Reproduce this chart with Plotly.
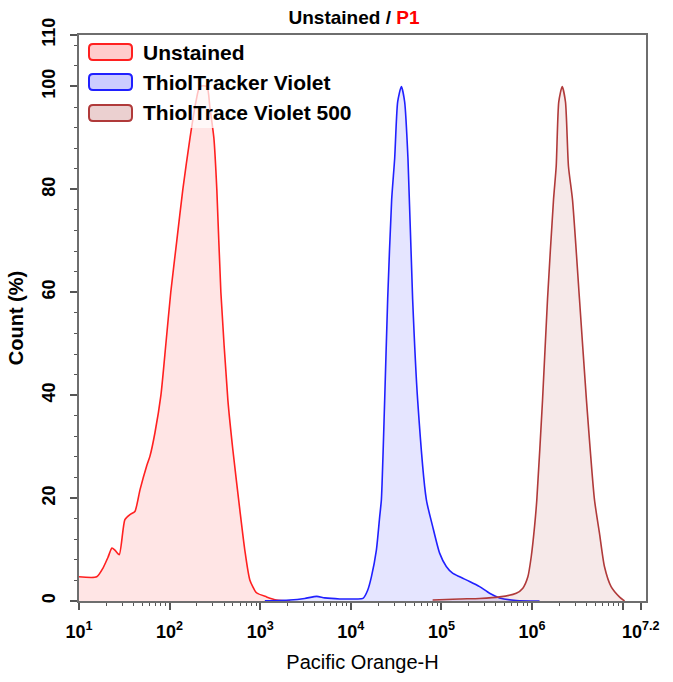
import plotly.graph_objects as go

# ---------------- data ----------------
unstained_x = [10, 15.7, 18.4, 20.9, 23.1, 24.9, 27.8, 32.1, 36.5, 41.4, 47.1, 55.7, 60.6, 68.9,
               80.2, 91, 103, 120, 140, 168, 195, 216, 258, 278, 308, 332, 368, 440, 499, 596,
               676, 768, 910, 1175, 1515, 2140]
unstained_y = [4.7, 4.7, 6.4, 8.5, 10.3, 9.9, 9.0, 15.8, 16.8, 17.4, 21.6, 26.2, 28.1, 32.7,
               40, 50, 60, 70, 80, 90, 97, 100, 100, 96, 90, 80, 60, 39, 29.4, 17.7,
               9.9, 4.1, 1.6, 0.8, 0.2, 0]

tracker_x = [1125, 2120, 3100, 4210, 5150, 7550, 11040, 13620, 15350, 16870, 19150, 20830, 21750,
             23640, 25520, 28240, 30480, 32890, 36140, 39280, 42740, 48110, 54690, 68190, 80000,
             95550, 113200, 132800, 158800, 204700, 263900, 340000, 438000, 670000, 1210000]
tracker_y = [0.05, 0.2, 0.5, 0.9, 0.6, 0.4, 0.4, 0.5, 2.1, 4.7, 9.9, 16.4, 19.7,
             39, 58.7, 78, 86, 97, 100, 97, 86, 58.7, 39, 19.7, 14.5,
             9.3, 6.7, 5.4, 4.7, 3.8, 2.8, 1.5, 0.6, 0.1, 0]

trace500_x = [80000, 158800, 263900, 438000, 670000, 792000, 900000, 980000, 1067000, 1130000,
              1306000, 1483000, 1727000, 1849000, 1973000, 2152000, 2340000, 2524000, 2797000,
              3340000, 3990000, 4890000, 5550000, 6300000, 7460000, 9220000, 10500000]
trace500_y = [0.2, 0.4, 0.5, 0.8, 1.5, 2.5, 4.7, 8.6, 14.5, 19.7,
              39, 58.7, 78, 84.5, 97, 100, 97, 84.5, 78,
              58.7, 39, 19.7, 13.2, 6.7, 2.8, 0.8, 0]

series_names = ["Unstained", "ThiolTracker Violet", "ThiolTrace Violet 500"]
line_colors = ["#ff2020", "#2020ff", "#b03a3a"]
fill_colors = ["rgba(255,0,0,0.10)", "rgba(0,0,255,0.10)", "rgba(165,42,42,0.10)"]
swatch_fills = ["rgba(255,0,0,0.20)", "rgba(0,0,255,0.20)", "rgba(165,42,42,0.22)"]

x_tick_vals = [10, 100, 1000, 1e4, 1e5, 1e6, 1e7, 10 ** 7.2]
x_tick_text = ["10<sup>1</sup>", "10<sup>2</sup>", "10<sup>3</sup>", "10<sup>4</sup>",
               "10<sup>5</sup>", "10<sup>6</sup>", "", "10<sup>7.2</sup>"]
x_minor_vals = [m * 10 ** d for d in range(1, 7) for m in range(2, 10)]
y_tick_vals = [0, 20, 40, 60, 80, 100, 110]
y_tick_text = ["0", "20", "40", "60", "80", "100", "110"]

# ---------------- layout geometry (pixels) ----------------
W, H = 673, 682
L, R, T, B = 79, 27, 35, 81
PW, PH = W - L - R, H - T - B


def px_x(px):
    return (px - L) / PW


def px_y(py):
    return (H - B - py) / PH


def rounded_rect(x0, y0, x1, y1, r=3):
    # pixel coords (y down) -> paper path with rounded corners
    rx, ry = r / PW, r / PH
    X0, X1 = px_x(x0), px_x(x1)
    Yt, Yb = px_y(y0), px_y(y1)
    return (f"M{X0 + rx},{Yt} L{X1 - rx},{Yt} Q{X1},{Yt} {X1},{Yt - ry} "
            f"L{X1},{Yb + ry} Q{X1},{Yb} {X1 - rx},{Yb} L{X0 + rx},{Yb} "
            f"Q{X0},{Yb} {X0},{Yb + ry} L{X0},{Yt - ry} Q{X0},{Yt} {X0 + rx},{Yt} Z")


FONT = "Liberation Sans, Arial, sans-serif"
fig = go.Figure()
for xs, ys, name, lc, fc in zip([unstained_x, tracker_x, trace500_x],
                                [unstained_y, tracker_y, trace500_y],
                                series_names, line_colors, fill_colors):
    fig.add_trace(go.Scatter(x=xs, y=ys, name=name, mode="lines",
                             line=dict(color=lc, width=1.6, shape="spline", smoothing=0.6),
                             fill="tozeroy", fillcolor=fc, showlegend=False))

# custom legend (box, swatches, labels)
shapes = [dict(type="rect", xref="paper", yref="paper", layer="above",
               x0=px_x(81), x1=px_x(362), y0=px_y(37), y1=px_y(128),
               fillcolor="rgba(255,255,255,0.72)", line=dict(width=0))]
annotations = []
row_y = [52, 82, 113]
for name, lc, sf, cy in zip(series_names, line_colors, swatch_fills, row_y):
    shapes.append(dict(type="path", xref="paper", yref="paper", layer="above",
                       path=rounded_rect(89, cy - 8, 132, cy + 8, r=4),
                       fillcolor=sf, line=dict(color=lc, width=2)))
    annotations.append(dict(text=f"<b>{name}</b>", xref="paper", yref="paper",
                            x=px_x(141), y=px_y(cy), xanchor="left", yanchor="middle",
                            showarrow=False,
                            font=dict(family=FONT, size=21, color="black")))

fig.update_layout(
    width=W, height=H,
    margin=dict(l=L, r=R, t=T, b=B, autoexpand=False),
    paper_bgcolor="white", plot_bgcolor="white",
    font=dict(family=FONT, color="black", size=15),
    title=dict(text="<b>Unstained / <span style='color:#ff0000'>P1</span></b>",
               x=354 / W, xref="container", xanchor="center",
               y=1 - 17 / H, yref="container", yanchor="middle",
               font=dict(family=FONT, size=19, color="black")),
    showlegend=False,
    shapes=shapes,
    annotations=annotations,
)
fig.update_xaxes(
    type="log", range=[1, 7.258], automargin=False,
    tickmode="array", tickvals=x_tick_vals, ticktext=x_tick_text,
    ticks="outside", ticklen=7, tickwidth=1.5, tickcolor="#555555",
    ticklabelstandoff=6,
    minor=dict(tickmode="array", tickvals=x_minor_vals, ticks="outside", ticklen=3,
               tickwidth=1, tickcolor="#555555"),
    tickfont=dict(family=FONT, size=18, color="black", weight="bold"),
    showline=True, linecolor="#6e6e6e", linewidth=2, mirror=True,
    showgrid=False, zeroline=False,
    title=dict(text="Pacific Orange-H", font=dict(family=FONT, size=20, color="black"),
               standoff=14),
)
fig.update_yaxes(
    range=[0, 110], automargin=False,
    tickmode="array", tickvals=y_tick_vals, ticktext=y_tick_text, tickangle=-90,
    ticks="outside", ticklen=7, tickwidth=1.5, tickcolor="#555555",
    ticklabelstandoff=8,
    minor=dict(dtick=4, tick0=0, ticks="outside", ticklen=3, tickwidth=1, tickcolor="#555555"),
    tickfont=dict(family=FONT, size=18, color="black", weight="bold"),
    showline=True, linecolor="#6e6e6e", linewidth=2, mirror=True,
    showgrid=False, zeroline=False,
    title=dict(text="<b>Count (%)</b>", font=dict(family=FONT, size=20, color="black"),
               standoff=10),
)

fig.write_html("out.html", config={"displayModeBar": False},
               post_script="document.body.style.margin='0px';")
